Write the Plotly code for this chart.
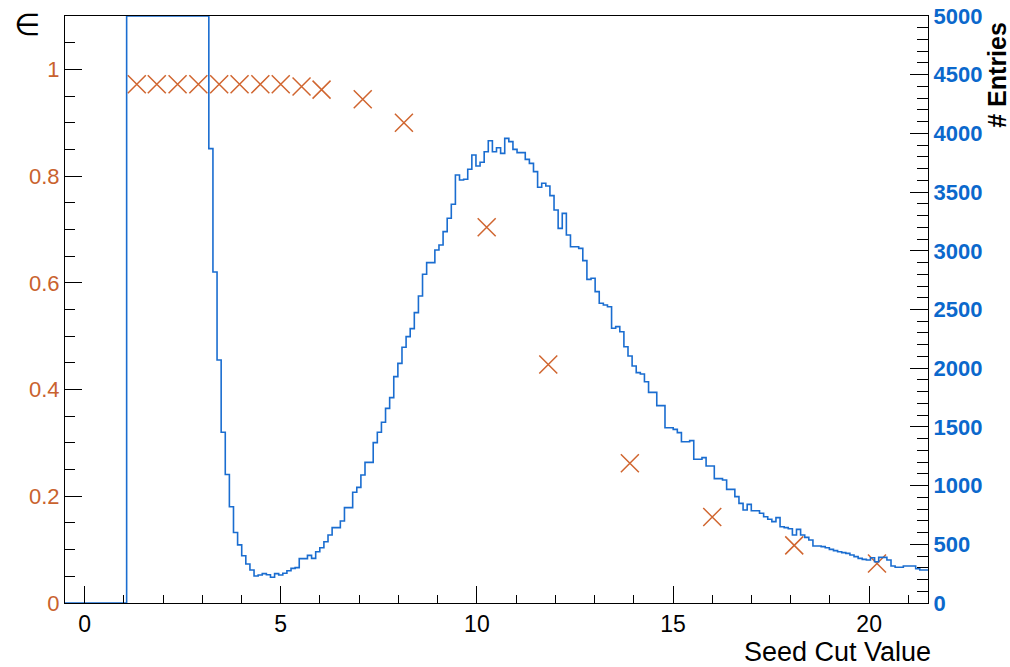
import numpy as np
import plotly.graph_objects as go

# ---- efficiency points (left axis) ----
SEED_CUT = [1.33, 1.84, 2.37, 2.90, 3.43, 3.95, 4.48, 5.00, 5.53, 6.04,
            7.09, 8.14, 10.25, 11.82, 13.90, 16.00, 18.09, 20.20]
EFFICIENCY = [0.972, 0.972, 0.972, 0.972, 0.972, 0.972, 0.972, 0.972, 0.968, 0.962,
              0.944, 0.900, 0.704, 0.447, 0.262, 0.161, 0.108, 0.074]

# ---- histogram (right axis): 210 bins from -0.5 to 21.5 ----
HIST_LO = -0.5
HIST_HI = 21.5
N_BINS = 210
ZERO_BINS = [0] * 15                 # empty bins at the low end
OFFSCALE_BINS = [5000] * 20          # bins above the 5000 axis maximum (drawn clipped)
MEASURED_BINS = [
    3870, 2820, 2070, 1455, 1095, 820, 600, 495, 403, 332,
    281, 230, 238, 250, 241, 219, 250, 238, 253, 275,
    295, 301, 378, 378, 406, 380, 437, 471, 522, 579,
    642, 642, 698, 812, 812, 943, 985, 1090, 1198, 1198,
    1366, 1454, 1539, 1658, 1749, 1928, 2041, 2178, 2269, 2337,
    2473, 2615, 2800, 2899, 2899, 3007, 3049, 3163, 3277, 3396,
    3646, 3603, 3609, 3694, 3816, 3722, 3754, 3844, 3938, 3844,
    3878, 3830, 3958, 3930, 3864, 3836, 3836, 3779, 3745, 3674,
    3541, 3575, 3552, 3470, 3348, 3191, 3319, 3135, 3035, 3035,
    3021, 2916, 2757, 2766, 2652, 2553, 2538, 2524, 2340, 2354,
    2311, 2183, 2104, 2019, 1962, 1951, 1885, 1794, 1794, 1681,
    1681, 1493, 1493, 1479, 1451, 1374, 1374, 1383, 1224, 1224,
    1238, 1167, 1167, 1059, 1059, 1048, 968, 968, 906, 849,
    792, 840, 786, 786, 764, 735, 713, 693, 727, 650,
    642, 633, 579, 627, 579, 559, 537, 486, 486, 480,
    471, 457, 446, 437, 429, 423, 409, 395, 380, 372,
    366, 386, 352, 389, 389, 366, 315, 304, 304, 315,
    315, 315, 292, 281, 281,
]
COUNTS = ZERO_BINS + OFFSCALE_BINS + MEASURED_BINS

X_TICKS = [0, 5, 10, 15, 20]
EFF_TICKS = [0, 0.2, 0.4, 0.6, 0.8, 1]
ENTRY_TICKS = [0, 500, 1000, 1500, 2000, 2500, 3000, 3500, 4000, 4500, 5000]

ORANGE = "#D0652F"
ORANGE_TXT = "#C9622E"
BLUE = "#1A6DD0"
BLUE_TXT = "#0B68CC"
FONT = "Liberation Sans, Arial, sans-serif"

edges = np.linspace(HIST_LO, HIST_HI, N_BINS + 1)
hx = list(edges)
hy = list(COUNTS) + [COUNTS[-1]]

fig = go.Figure()
fig.add_trace(go.Scatter(
    x=SEED_CUT, y=EFFICIENCY, mode="markers", yaxis="y",
    marker=dict(symbol="x-thin", size=18, line=dict(color=ORANGE, width=1.5), color=ORANGE),
    showlegend=False, cliponaxis=False,
))
fig.add_trace(go.Scatter(
    x=hx, y=hy, mode="lines", yaxis="y2", line_shape="hv",
    line=dict(color=BLUE, width=1.6), showlegend=False,
))

fig.update_layout(
    width=1010, height=667,
    margin=dict(l=65, r=82, t=16, b=64, autoexpand=False),
    paper_bgcolor="white", plot_bgcolor="white",
    font=dict(family=FONT),
    xaxis=dict(
        range=[HIST_LO, HIST_HI], tickvals=X_TICKS, ticktext=[str(v) for v in X_TICKS],
        automargin=False,
        showgrid=False, zeroline=False, showline=True, linecolor="black", linewidth=1.2,
        mirror=True, ticks="inside", ticklen=17, tickcolor="black", tickwidth=1.2,
        minor=dict(dtick=1, tick0=0, ticks="inside", ticklen=8, tickcolor="black", tickwidth=1.2),
        tickfont=dict(size=23, color="black", family=FONT),
    ),
    yaxis=dict(
        range=[0, 1.1], tickvals=EFF_TICKS, ticktext=[f"{v:g}" for v in EFF_TICKS],
        automargin=False,
        showgrid=False, zeroline=False, showline=True, linecolor="black", linewidth=1.2,
        ticks="inside", ticklen=17, tickcolor="black", tickwidth=1.2,
        minor=dict(dtick=0.05, tick0=0, ticks="inside", ticklen=10, tickcolor="black", tickwidth=1.2),
        tickfont=dict(size=22, color=ORANGE_TXT, family=FONT),
    ),
    yaxis2=dict(
        range=[0, 5000], tickvals=ENTRY_TICKS, ticktext=[str(v) for v in ENTRY_TICKS],
        overlaying="y", side="right", anchor="x", automargin=False,
        showgrid=False, zeroline=False, showline=True, linecolor="black", linewidth=1.2,
        ticks="inside", ticklen=18, tickcolor="black", tickwidth=1.2,
        minor=dict(dtick=100, tick0=0, ticks="inside", ticklen=11, tickcolor="black", tickwidth=1.2),
        tickfont=dict(size=22, color=BLUE_TXT, family=FONT, weight="bold"),
    ),
    annotations=[
        dict(text="∈", xref="paper", yref="paper", x=-0.044, y=0.985,
             xanchor="center", yanchor="middle", showarrow=False,
             font=dict(size=30, color="black", family="DejaVu Sans")),
        dict(text="Seed Cut Value", xref="paper", yref="paper", x=1.006, y=-0.083,
             xanchor="right", yanchor="middle", showarrow=False,
             font=dict(size=27, color="black", family=FONT)),
        dict(text="# Entries", xref="paper", yref="paper", x=1.08, y=0.90,
             xanchor="center", yanchor="middle", showarrow=False, textangle=-90,
             font=dict(size=25, color="black", family=FONT, weight="bold")),
    ],
)

fig.write_html("out.html")
